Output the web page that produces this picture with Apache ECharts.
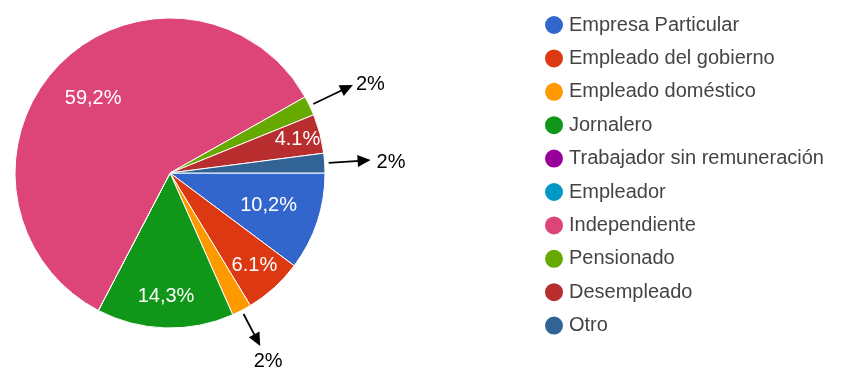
<!DOCTYPE html>
<html>
  <head>
    <title></title>
    <meta charset="UTF-8" />
    <script src="https://cdn.jsdelivr.net/npm/echarts@6/dist/echarts.min.js"></script>
  </head>
  <body style="margin:0">
    <div id="main"></div>
    <script>
      const width = 844;
      const height = 371;
      const main = document.getElementById('main');
      main.style.width = `${width}px`;
      main.style.height = `${height}px`;

      const categories = ['Empresa Particular', 'Empleado del gobierno', 'Empleado doméstico', 'Jornalero',
        'Trabajador sin remuneración', 'Empleador', 'Independiente', 'Pensionado', 'Desempleado', 'Otro'];
      const counts = [5, 3, 1, 7, 0, 0, 29, 1, 2, 1];
      const sliceLabels = ['10,2%', '6.1%', '2%', '14,3%', '', '', '59,2%', '2%', '4.1%', '2%'];
      const colors = ['#3366cc', '#dc3912', '#ff9900', '#109618', '#990099', '#0099c6', '#dd4477', '#66aa00', '#b82e2e', '#316395'];
      // small slices get their label outside, with an arrow
      const arrowed = [2, 7, 9];

      const cx = 170, cy = 173, R = 155;
      // how far out each inside label sits, as a share of the radius
      const labelDist = [0.67, 0.81, 0, 0.8, 0, 0, 0.69, 0, 0.85, 0];
      // arrow length and where the text goes relative to the tip
      const arrowLen = {2: 36, 7: 44, 9: 42};
      const tipText = {
        2: {dx: 8, dy: 16, align: 'center'},
        7: {dx: 3, dy: 0, align: 'left'},
        9: {dx: 6, dy: 2, align: 'left'}
      };

      const total = counts.reduce((a, b) => a + b, 0);
      const midAngle = [];
      let acc = 0;
      counts.forEach(v => {
        midAngle.push((acc + v / 2) / total * Math.PI * 2);
        acc += v;
      });

      const tipOf = i => {
        const r2 = R + 4 + arrowLen[i];
        return [cx + r2 * Math.cos(midAngle[i]), cy + r2 * Math.sin(midAngle[i])];
      };

      const arrows = arrowed.flatMap(i => {
        const c = Math.cos(midAngle[i]), s = Math.sin(midAngle[i]);
        const r1 = R + 4;
        const tip = tipOf(i);
        const head = 13;
        const base = [tip[0] - head * c, tip[1] - head * s];
        return [
          {
            type: 'line',
            shape: {x1: cx + r1 * c, y1: cy + r1 * s, x2: base[0] + 2 * c, y2: base[1] + 2 * s},
            style: {stroke: '#000', lineWidth: 1.8}
          },
          {
            type: 'polygon',
            shape: {points: [tip, [base[0] - 6 * s, base[1] + 6 * c], [base[0] + 6 * s, base[1] - 6 * c]]},
            style: {fill: '#000'}
          }
        ];
      });

      const myChart = echarts.init(main);
      const option = {
        animation: false,
        color: colors,
        legend: {
          orient: 'vertical',
          left: 538,
          top: 9,
          icon: 'circle',
          itemWidth: 20,
          itemHeight: 20,
          itemGap: 11.4,
          itemTextGap: 12,
          textStyle: {
            fontFamily: 'Liberation Sans',
            fontSize: 20,
            color: '#444'
          },
          data: categories
        },
        graphic: arrows,
        series: [
          {
            type: 'pie',
            center: [cx, cy],
            radius: R,
            startAngle: 0,
            clockwise: true,
            itemStyle: {
              borderColor: '#fff',
              borderWidth: 1
            },
            label: {
              show: true,
              position: 'inside',
              formatter: p => sliceLabels[p.dataIndex],
              color: '#fff',
              fontSize: 20,
              fontFamily: 'Liberation Sans'
            },
            labelLine: {show: false},
            labelLayout: p => {
              const i = p.dataIndex;
              if (arrowed.includes(i)) {
                const tip = tipOf(i);
                const t = tipText[i];
                return {x: tip[0] + t.dx, y: tip[1] + t.dy, align: t.align, verticalAlign: 'middle'};
              }
              const d = labelDist[i] * R;
              return {
                x: cx + d * Math.cos(midAngle[i]),
                y: cy + d * Math.sin(midAngle[i]),
                align: 'center',
                verticalAlign: 'middle'
              };
            },
            data: categories.map((name, i) => ({
              name,
              value: counts[i],
              label: arrowed.includes(i) ? {color: '#000'} : {}
            }))
          }
        ]
      };
      myChart.setOption(option);
    </script>
  </body>
</html>
